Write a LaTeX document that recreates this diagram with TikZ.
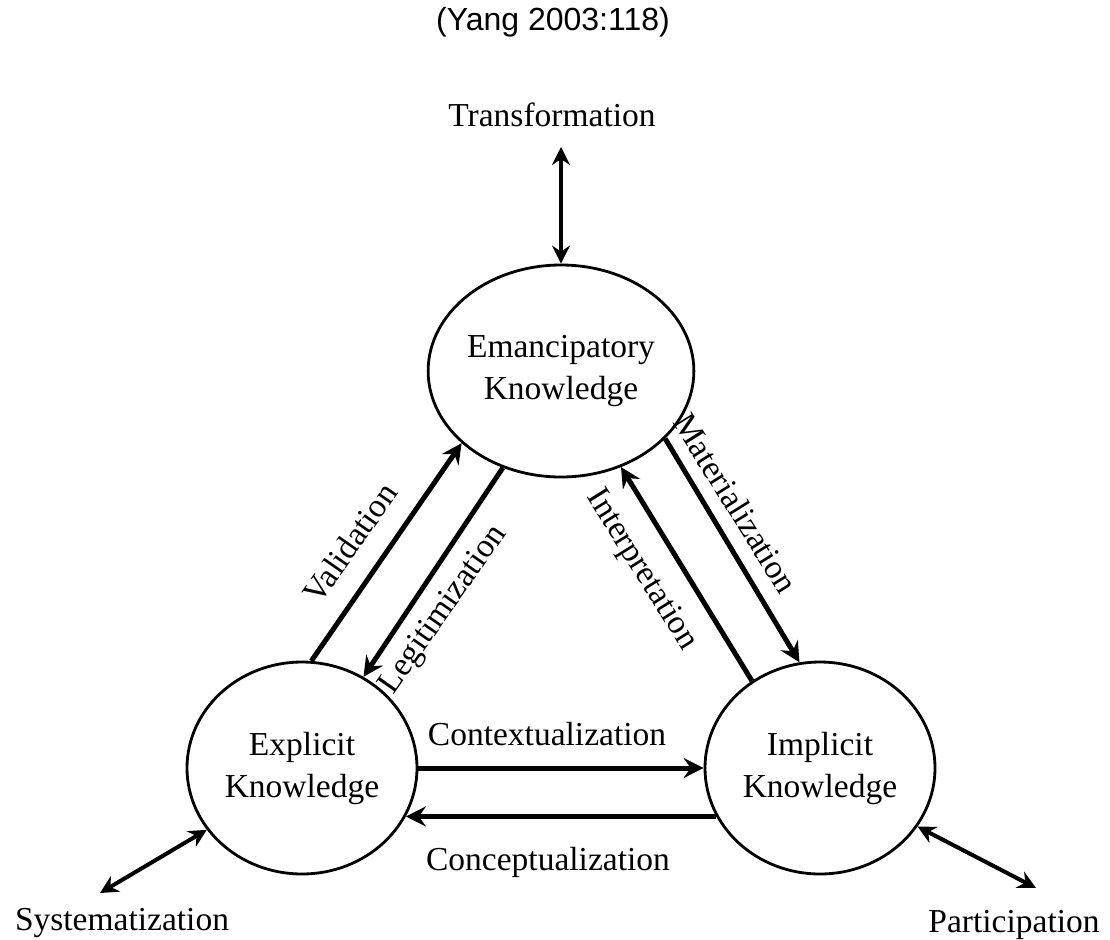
\documentclass[tikz,border=0pt]{standalone}
\usepackage{fontspec}
\setmainfont{Liberation Serif}
\newfontfamily\titlefont{Liberation Sans}
\usetikzlibrary{arrows.meta,shapes.geometric}
\tikzset{
  knowbox/.style={draw,ellipse,line width=2.8pt,minimum width=230pt,minimum height=212pt,align=center,inner sep=0pt,font=\fontsize{33.5}{42}\selectfont},
  flow/.style={line width=5pt,-{Stealth[length=20pt,width=20pt,inset=7pt]}},
  twoway/.style={line width=4pt,{Stealth[length=18pt,width=18pt,inset=6pt]}-{Stealth[length=18pt,width=18pt,inset=6pt]}},
  lab/.style={inner sep=0pt,font=\fontsize{33.5}{40}\selectfont}
}
\begin{document}
\begin{tikzpicture}[x=1pt,y=-1pt]
\useasboundingbox (0,0) rectangle (1110,939);
\node[font=\titlefont\fontsize{32}{38}\selectfont] (title) at (553,22) {(Yang 2003:118)};
\node[knowbox] (emanc) at (561,371) {Emancipatory\\Knowledge};
\node[knowbox] (explicit) at (302,768) {Explicit\\Knowledge};
\node[knowbox] (implicit) at (820,768) {Implicit\\Knowledge};
\node[lab,anchor=base] (trans) at (552,127) {Transformation};
\node[lab,anchor=base] (syst) at (122,930) {Systematization};
\node[lab,anchor=base] (partic) at (1014,932) {Participation};
\coordinate (transend) at (561,147);
\coordinate (systend) at (100,893);
\coordinate (particend) at (1036,888);
% arrows between the three kinds of knowledge
\draw[flow] (explicit.85) -- (emanc.216);
\draw[flow] (emanc.239) -- (explicit.56);
\draw[flow] (implicit.128) -- (emanc.302);
\draw[flow] (emanc.327) -- (implicit.101);
\draw[flow] (explicit.0) -- (implicit.180);
\draw[flow] (implicit.205) -- (explicit.335);
% outer arrows
\draw[twoway] (transend) -- (emanc.north);
\draw[twoway] (systend) -- (explicit.213);
\draw[twoway] (particend) -- (implicit.329);
% labels
\node[lab,rotate=55] (valid) at (350,543) {Validation};
\node[lab,rotate=55] (legit) at (444,610) {Legitimization};
\node[lab,rotate=-58] (interp) at (641,570) {Interpretation};
\node[lab,rotate=-58] (mater) at (736,503) {Materialization};
\node[lab,anchor=base] (context) at (547,745) {Contextualization};
\node[lab,anchor=base] (concept) at (548,870) {Conceptualization};
\end{tikzpicture}
\end{document}
